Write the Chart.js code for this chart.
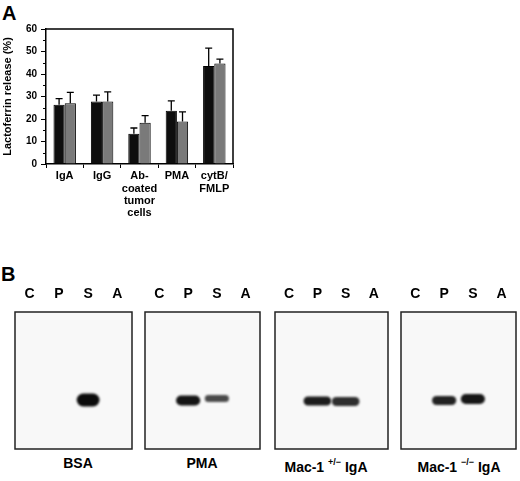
<!DOCTYPE html>
<html>
<head>
<meta charset="utf-8">
<script src="https://cdn.jsdelivr.net/npm/chart.js@4.4.0/dist/chart.umd.min.js"></script>
<style>
  body { margin: 0; background: #fff; }
  #wrap { position: relative; width: 520px; height: 481px; overflow: hidden; background: #fff;
          font-family: Arial, "Liberation Sans", sans-serif; font-weight: bold; color: #000; }
  canvas { position: absolute; }
  .panel { position: absolute; font-size: 20px; line-height: 20px; }
  .blotname { position: absolute; top: 455px; width: 130px; text-align: center; font-size: 14px; line-height: 16px; white-space: nowrap; }
  .blotname sup { font-size: 9px; position: relative; top: -1px; }
</style>
</head>
<body>
<div id="wrap">
  <div class="panel" style="left:2px; top:3px;">A</div>
  <div class="panel" style="left:1px; top:264px;">B</div>
  <canvas id="graficoA" width="260" height="230" style="left:0; top:0;"></canvas>
  <canvas id="blot0"></canvas>
  <canvas id="blot1"></canvas>
  <canvas id="blot2"></canvas>
  <canvas id="blot3"></canvas>
  <div class="blotname" style="left:13px;">BSA</div>
  <div class="blotname" style="left:137px;">PMA</div>
  <div class="blotname" style="left:261px;">Mac-1 <sup>+/&minus;</sup> IgA</div>
  <div class="blotname" style="left:394px;">Mac-1 <sup>&minus;/&minus;</sup> IgA</div>
</div>
<script>
// Panel A: lactoferrin release (%)
const categorias = ["IgA", "IgG", ["Ab-", "coated", "tumor", "cells"], "PMA", ["cytB/", "FMLP"]];
const valoresNegro = [26.3, 27.8, 13.5, 23.7, 43.6];
const erroresNegro = [2.8, 2.8, 2.5, 4.4, 7.9];
const valoresGris = [27.0, 27.8, 18.3, 18.9, 44.7];
const erroresGris = [4.8, 4.3, 3.2, 4.3, 1.9];
const ticksY = [0, 10, 20, 30, 40, 50, 60];

// Panel B: western blots (band = [top, bottom] distance from top of the membrane)
const carriles = ["C", "P", "S", "A"];
const bandasBSA = [null, null, [81.5, 94.5], null];
const bandasPMA = [null, [83.5, 93.5], [83, 90], null];
const bandasMacHet = [null, [84.5, 93.5], [85, 94], null];
const bandasMacKo = [null, [84, 93], [82, 92], null];
const tonosBSA = [null, null, "#0c0c0c", null];
const tonosPMA = [null, "#141414", "#4a4a4a", null];
const tonosMacHet = [null, "#1c1c1c", "#2e2e2e", null];
const tonosMacKo = [null, "#222222", "#161616", null];

const fuente = "Arial, 'Liberation Sans', sans-serif";

// barras de error (solo hacia arriba) + marco + ticks menores
const extrasA = {
  id: "extrasA",
  afterDatasetsDraw(chart) {
    const ctx = chart.ctx;
    const y = chart.scales.y;
    const errores = [erroresNegro, erroresGris];
    ctx.save();
    ctx.strokeStyle = "#000";
    ctx.lineWidth = 1.3;
    [0, 1].forEach(d => {
      const meta = chart.getDatasetMeta(d);
      const vals = chart.data.datasets[d].data;
      meta.data.forEach((bar, i) => {
        const y0 = y.getPixelForValue(vals[i]);
        const y1 = y.getPixelForValue(vals[i] + errores[d][i]);
        ctx.beginPath();
        ctx.moveTo(bar.x, y0);
        ctx.lineTo(bar.x, y1);
        ctx.moveTo(bar.x - 3.5, y1);
        ctx.lineTo(bar.x + 3.5, y1);
        ctx.stroke();
      });
    });
    ctx.restore();
  },
  afterDraw(chart) {
    const ctx = chart.ctx;
    const a = chart.chartArea;
    const y = chart.scales.y;
    ctx.save();
    ctx.strokeStyle = "#000";
    ctx.lineWidth = 1.5;
    ctx.beginPath();
    ctx.moveTo(a.left, a.top);
    ctx.lineTo(a.right, a.top);
    ctx.lineTo(a.right, a.bottom);
    ctx.stroke();
    ctx.lineWidth = 1;
    for (let v = 5; v < 60; v += 10) {
      const py = Math.round(y.getPixelForValue(v)) + 0.5;
      ctx.beginPath();
      ctx.moveTo(a.left - 3, py);
      ctx.lineTo(a.left, py);
      ctx.stroke();
    }
    ctx.restore();
  }
};

new Chart(document.getElementById("graficoA").getContext("2d"), {
  type: "bar",
  data: {
    labels: categorias,
    datasets: [
      { data: valoresNegro, backgroundColor: "#0e0e0e", borderColor: "#000", borderWidth: 1 },
      { data: valoresGris, backgroundColor: "#7a7a7a", borderColor: "#000", borderWidth: 1 }
    ]
  },
  options: {
    responsive: false,
    animation: false,
    devicePixelRatio: 1,
    layout: { padding: { top: 29, right: 27, left: 1, bottom: 0 } },
    datasets: { bar: { categoryPercentage: 0.6, barPercentage: 1.0 } },
    scales: {
      x: {
        afterFit: s => { s.height = 66; },
        grid: { drawOnChartArea: false, drawTicks: true, tickLength: 4, color: "#000", offset: true },
        border: { color: "#000", width: 1.5 },
        ticks: { color: "#000", padding: 2, maxRotation: 0, autoSkip: false,
                 font: { family: fuente, size: 11, weight: "bold", lineHeight: 1.12 } }
      },
      y: {
        min: 0, max: 60,
        afterFit: s => { s.width = 45; },
        afterBuildTicks: s => { s.ticks = ticksY.map(v => ({ value: v })); },
        grid: { drawOnChartArea: false, tickLength: 5, color: "#000" },
        border: { color: "#000", width: 1.5 },
        ticks: { color: "#000", padding: 4, font: { family: fuente, size: 10, weight: "bold" } },
        title: { display: true, text: "Lactoferrin release (%)", color: "#000", padding: { top: 0, bottom: 0, y: 0 },
                 font: { family: fuente, size: 11, weight: "bold" } }
      }
    },
    plugins: { legend: { display: false }, tooltip: { enabled: false } }
  },
  plugins: [extrasA]
});

// membranas
const membrana = {
  id: "membrana",
  beforeDatasetsDraw(chart) {
    const ctx = chart.ctx;
    const a = chart.chartArea;
    ctx.fillStyle = "#f8f8f8";
    ctx.fillRect(a.left, a.top, a.right - a.left, a.bottom - a.top);
    ctx.save();
    ctx.filter = "blur(1.2px)";
  },
  afterDatasetsDraw(chart) {
    chart.ctx.restore();
  },
  afterDraw(chart) {
    const ctx = chart.ctx;
    const a = chart.chartArea;
    ctx.save();
    ctx.strokeStyle = "#222";
    ctx.lineWidth = 1.5;
    ctx.strokeRect(a.left, a.top, a.right - a.left, a.bottom - a.top);
    ctx.restore();
  }
};

const cajas = [[15, 132], [145, 260], [275, 388], [401, 516]];
const bandas = [bandasBSA, bandasPMA, bandasMacHet, bandasMacKo];
const tonos = [tonosBSA, tonosPMA, tonosMacHet, tonosMacKo];
const anchos = [0.78, 0.84, 0.98, 0.84];

cajas.forEach((c, k) => {
  const cv = document.getElementById("blot" + k);
  cv.width = c[1] - c[0] + 4;
  cv.height = 171;
  cv.style.left = (c[0] - 2) + "px";
  cv.style.top = "280px";
  new Chart(cv.getContext("2d"), {
    type: "bar",
    data: {
      labels: carriles,
      datasets: [{
        data: bandas[k],
        backgroundColor: tonos[k],
        barPercentage: anchos[k],
        categoryPercentage: 1.0,
        borderRadius: 20,
        borderSkipped: false
      }]
    },
    options: {
      responsive: false,
      animation: false,
      devicePixelRatio: 1,
      layout: { padding: { top: 0, left: 2, right: 2, bottom: 2 } },
      scales: {
        x: {
          position: "top",
          afterFit: s => { s.height = 32; },
          grid: { display: false },
          border: { display: false },
          ticks: { color: "#000", padding: 1, font: { family: fuente, size: 14, weight: "bold" } }
        },
        y: { display: false, min: 0, max: 137, reverse: true }
      },
      plugins: { legend: { display: false }, tooltip: { enabled: false } }
    },
    plugins: [membrana]
  });
});
</script>
</body>
</html>
